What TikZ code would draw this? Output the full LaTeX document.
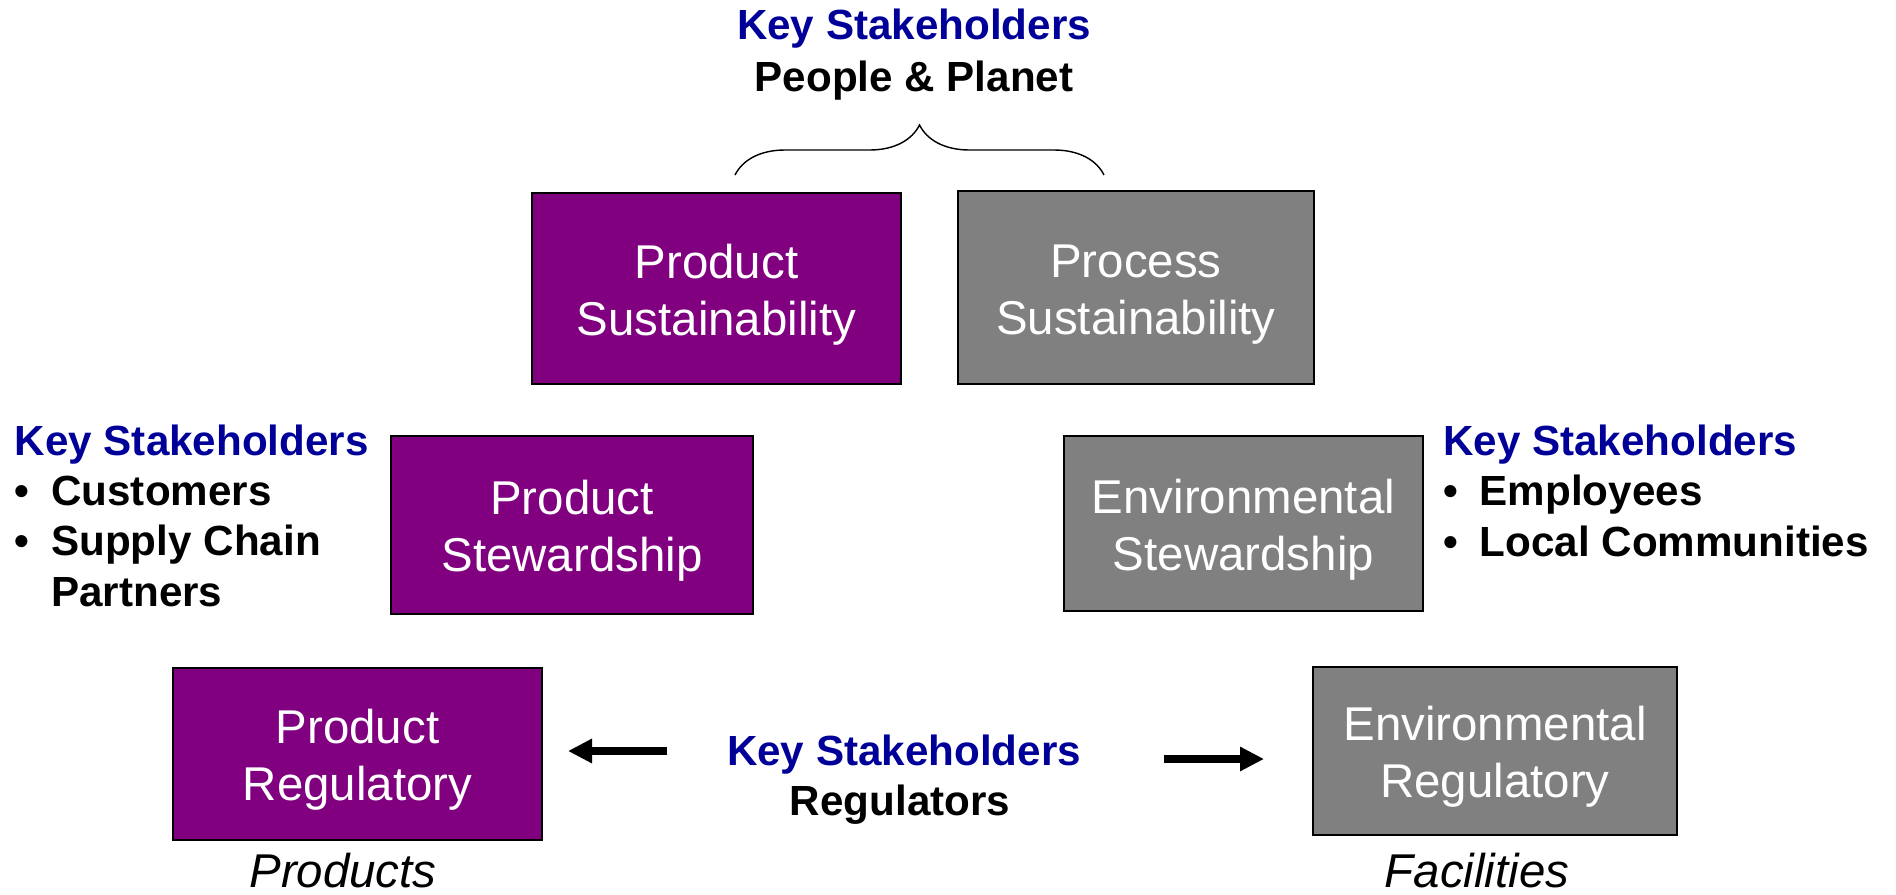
\documentclass[tikz,border=0pt]{standalone}
\usepackage{fontspec}
\setmainfont{Liberation Sans}
\usetikzlibrary{arrows.meta,decorations.pathreplacing}
\definecolor{prodpurple}{RGB}{128,0,128}
\definecolor{procgrey}{RGB}{128,128,128}
\definecolor{keyblue}{RGB}{0,0,153}
\newcommand{\bul}{\makebox[0.73cm][l]{\textbullet}}
\newcommand{\boxstrut}{\rule{0pt}{26.5pt}}

\tikzset{
  box/.style={draw=black, line width=1.1pt, text=white, align=center, inner sep=0pt,
    font=\fontsize{27}{32.5}\selectfont},
  prodbox/.style={box, fill=prodpurple},
  procbox/.style={box, fill=procgrey},
  keytext/.style={font=\bfseries\fontsize{24}{28.5}\selectfont, inner sep=0pt},
  bigarrow/.style={line width=0.16cm, -{Triangle[length=0.48cm,width=0.46cm]}}
}

\begin{document}
\begin{tikzpicture}[x=0.02cm,y=-0.02cm]
  \useasboundingbox (0,0) rectangle (1896,895);

  % boxes
  \node[prodbox, minimum width=7.38cm, minimum height=3.82cm] (prodsust) at (716.5,288.5) {\boxstrut Product\\Sustainability};
  \node[procbox, minimum width=7.12cm, minimum height=3.86cm] (procsust) at (1136,287.5) {\boxstrut Process\\Sustainability};
  \node[prodbox, minimum width=7.24cm, minimum height=3.56cm] (prodstew) at (572,525) {\boxstrut Product\\Stewardship};
  \node[procbox, minimum width=7.18cm, minimum height=3.5cm] (envstew) at (1243.5,523.5) {\boxstrut Environmental\\Stewardship};
  \node[prodbox, minimum width=7.38cm, minimum height=3.44cm] (prodreg) at (357.5,754) {\boxstrut Product\\Regulatory};
  \node[procbox, minimum width=7.28cm, minimum height=3.36cm] (envreg) at (1495,751) {\boxstrut Environmental\\Regulatory};

  % stakeholders
  \node[keytext, text=keyblue, anchor=base] (topkey) at (914,40) {Key Stakeholders};
  \node[keytext, anchor=base] (toppeople) at (914,92) {People \& Planet};
  \coordinate (braceL) at (735,175);
  \coordinate (braceR) at (1104,175);
  \draw[line width=0.8pt, decorate, decoration={brace, amplitude=1cm}] (braceL) -- (braceR);

  \node[keytext, anchor=base west, align=left] (leftkey) at (14.5,606)
    {\textcolor{keyblue}{Key Stakeholders}\\ \bul Customers\\ \bul Supply Chain\\ \hspace*{0.73cm}Partners};
  \node[keytext, anchor=base west, align=left] (rightkey) at (1443,556)
    {\textcolor{keyblue}{Key Stakeholders}\\ \bul Employees\\ \bul Local Communities};

  \node[keytext, text=keyblue, anchor=base] (botkey) at (904,765) {Key Stakeholders};
  \node[keytext, anchor=base] (botreg) at (900,815) {Regulators};

  \coordinate (larrowS) at (667,751);
  \coordinate (larrowE) at (568,751);
  \coordinate (rarrowS) at (1164,759);
  \coordinate (rarrowE) at (1264,759);
  \draw[bigarrow] (larrowS) -- (larrowE);
  \draw[bigarrow] (rarrowS) -- (rarrowE);

  \node[font=\itshape\fontsize{27}{33}\selectfont, inner sep=0pt, anchor=base] (products) at (343,887) {Products};
  \node[font=\itshape\fontsize{27}{33}\selectfont, inner sep=0pt, anchor=base] (facilities) at (1477,887) {Facilities};
\end{tikzpicture}
\end{document}
